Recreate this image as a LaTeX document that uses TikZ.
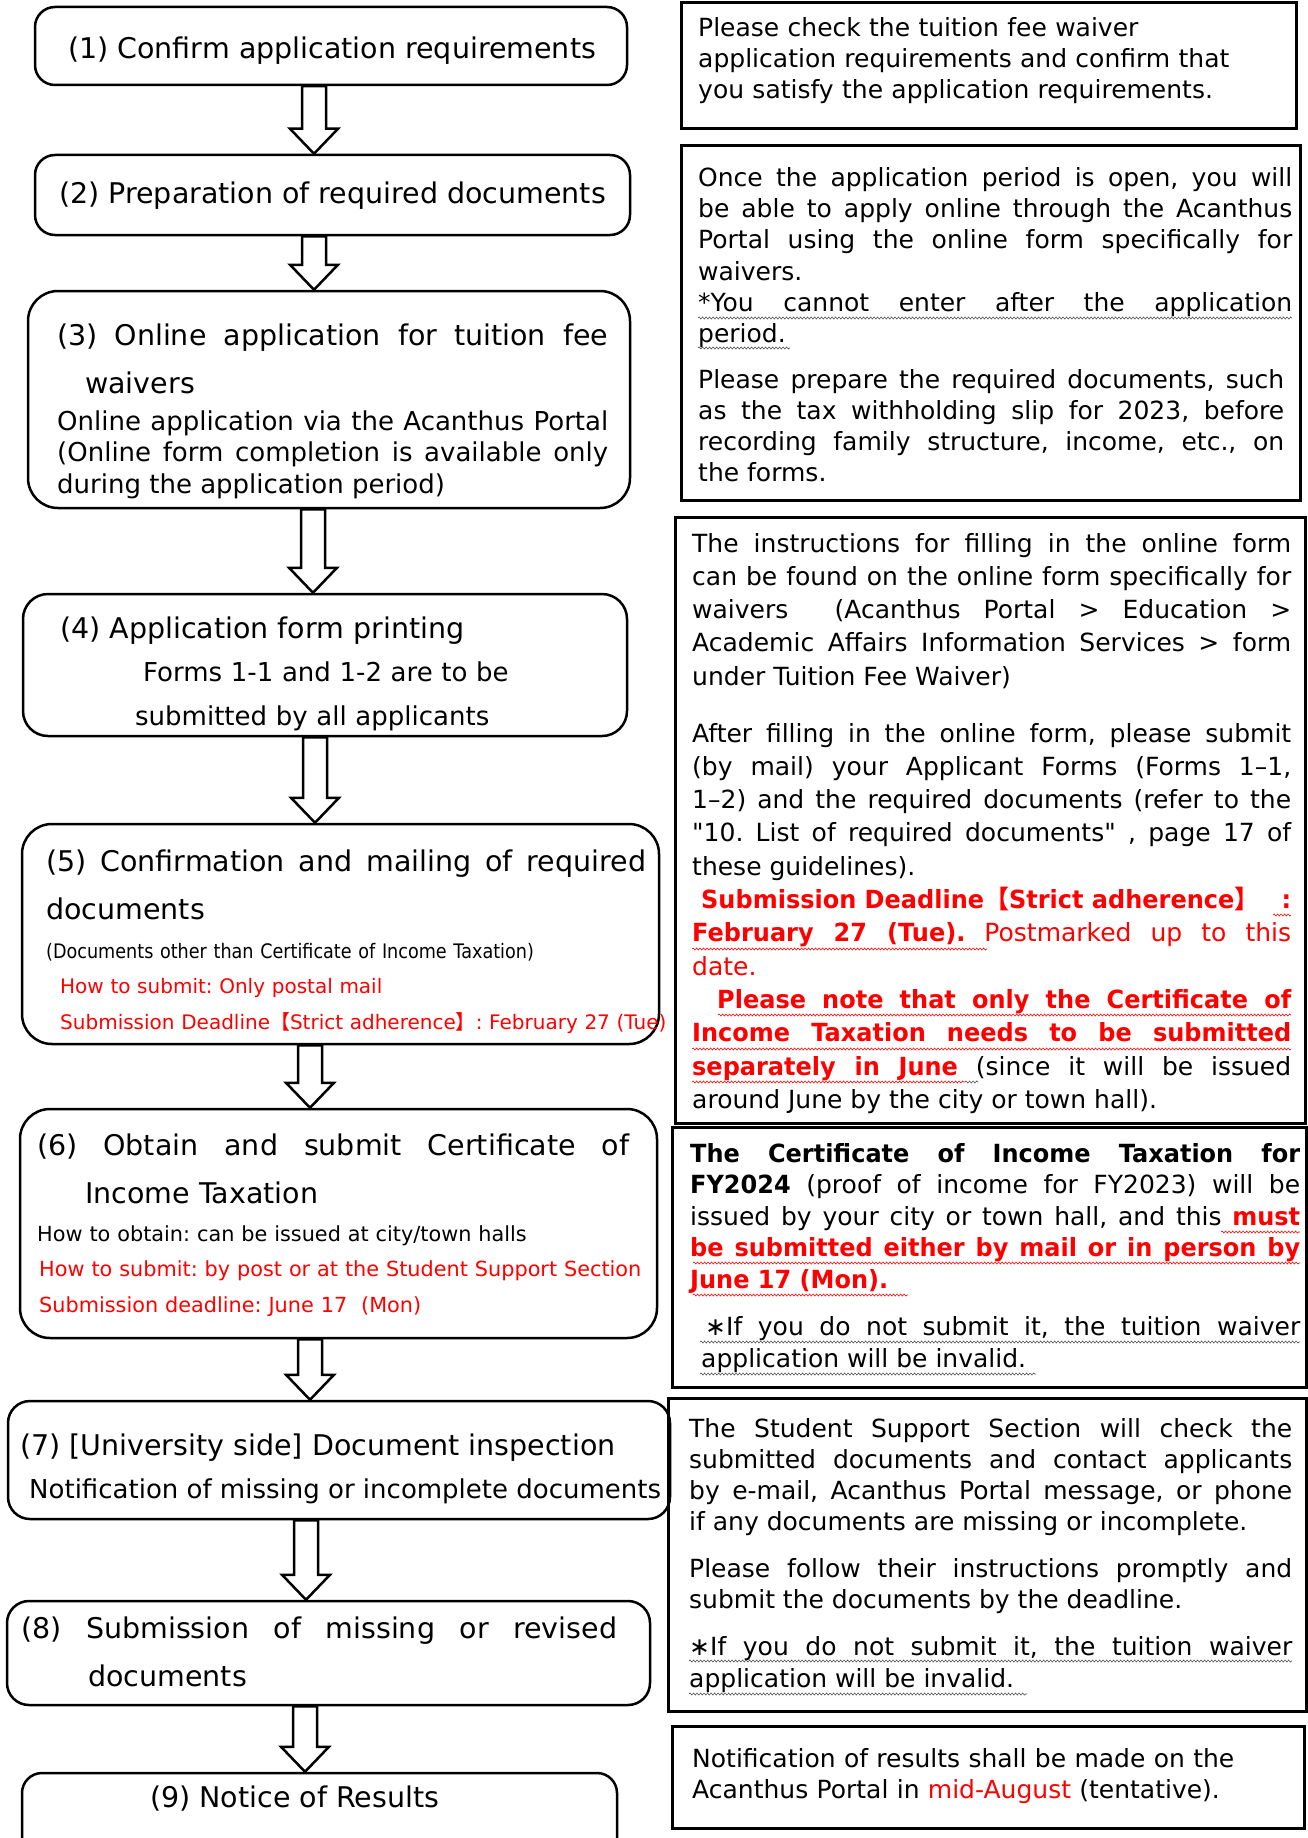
\documentclass[tikz,border=0pt]{standalone}
\usepackage{fontspec}
\setmainfont{DejaVu Sans}[BoldFeatures={FakeStretch=0.96}]
\newfontfamily\cjk{Noto Sans CJK JP}
\newfontfamily\narrowfont{DejaVu Sans}[FakeStretch=0.88]
\usetikzlibrary{calc,decorations.pathmorphing}
\hyphenpenalty=10000
\exhyphenpenalty=10000
\frenchspacing
\newcommand{\flowarrow}[3]{%
  \draw[arrowline] let \p1=(#2.south), \p2=(#3.north) in
    (#1pt-12pt,\y1) -- (#1pt+12pt,\y1) -- (#1pt+12pt,\y2+25pt)
    -- (#1pt+24pt,\y2+25pt) -- (#1pt,\y2) -- (#1pt-24pt,\y2+25pt)
    -- (#1pt-12pt,\y2+25pt) -- cycle;}

\begin{document}
\begin{tikzpicture}[x=1pt,y=-1pt,
  flowbox/.style={draw, rounded corners=20pt, line width=2.5pt, inner sep=0pt},
  notebox/.style={draw, line width=3pt, inner sep=0pt},
  titletext/.style={anchor=base west, inner sep=0pt, font=\fontsize{28.5pt}{48pt}\selectfont},
  subtext/.style={anchor=base west, inner sep=0pt, font=\fontsize{26pt}{31.5pt}\selectfont},
  smalltext/.style={anchor=base west, inner sep=0pt, text width=640pt, align=left, font=\fontsize{20pt}{35.5pt}\selectfont},
  notetext/.style={anchor=base west, inner sep=0pt, align=justify, font=\fontsize{25pt}{31pt}\selectfont},
  arrowline/.style={draw, fill=white, line width=2.5pt},
  wavy/.style={draw=black!70, line width=0.6pt, decorate, decoration={snake, amplitude=1pt, segment length=3.5pt}}]
  \useasboundingbox (0,0) rectangle (1308,1838);

  \node[flowbox, minimum width=592pt, minimum height=78pt] (b1) at (331,46) {};
  \node[flowbox, minimum width=595pt, minimum height=80pt] (b2) at (332.5,195) {};
  \node[flowbox, rounded corners=30pt, minimum width=602pt, minimum height=217pt] (b3) at (329,399.5) {};
  \node[flowbox, rounded corners=25pt, minimum width=604pt, minimum height=142pt] (b4) at (325,665) {};
  \node[flowbox, rounded corners=30pt, minimum width=637pt, minimum height=220pt] (b5) at (340.5,934) {};
  \node[flowbox, rounded corners=30pt, minimum width=637pt, minimum height=229pt] (b6) at (338.5,1223.5) {};
  \node[flowbox, rounded corners=22pt, minimum width=662pt, minimum height=118pt] (b7) at (339,1460) {};
  \node[flowbox, rounded corners=22pt, minimum width=643pt, minimum height=104pt] (b8) at (328.5,1653) {};
  \node[flowbox, minimum width=595pt, minimum height=97pt] (b9) at (319.5,1821.5) {};

  \node[notebox, minimum width=615pt, minimum height=126pt] (r1) at (988.5,66) {};
  \node[notebox, minimum width=619pt, minimum height=354pt] (r2) at (990.5,323) {};
  \node[notebox, minimum width=630pt, minimum height=606pt] (r3) at (990,820) {};
  \node[notebox, minimum width=634pt, minimum height=260pt] (r4) at (989,1257) {};
  \node[notebox, minimum width=638pt, minimum height=313pt] (r5) at (987,1554.5) {};
  \node[notebox, minimum width=632pt, minimum height=102pt] (r6) at (988,1777) {};

  \flowarrow{314}{b1}{b2}
  \flowarrow{314}{b2}{b3}
  \flowarrow{313}{b3}{b4}
  \flowarrow{315}{b4}{b5}
  \flowarrow{310}{b5}{b6}
  \flowarrow{310}{b6}{b7}
  \flowarrow{306}{b7}{b8}
  \flowarrow{305}{b8}{b9}

  \node[titletext] (t1) at (68,59) {(1) Confirm application requirements};
  \node[titletext] (t2) at (59,204) {(2) Preparation of required documents};
  \node[titletext, text width=551pt, align=justify] (t3) at (57,345)
    {(3) Online application for tuition fee\linebreak\hspace*{28pt}waivers};
  \node[subtext, text width=551pt, align=justify] (t3s) at (57,430)
    {Online application via the Acanthus Portal\linebreak
     (Online form completion is available only\linebreak
     during the application period)};
  \node[titletext] (t4) at (60,638) {(4) Application form printing};
  \node[subtext, text width=420pt, align=left, font=\fontsize{26pt}{44pt}\selectfont] (t4s) at (135,681)
    {\hspace*{8pt}Forms 1-1 and 1-2 are to be\\submitted by all applicants};
  \node[titletext, text width=600pt, align=justify] (t5) at (46,871)
    {(5) Confirmation and mailing of required\linebreak documents};
  \node[smalltext] (t5s) at (46,958)
    {{\narrowfont (Documents other than Certificate of Income Taxation)}\\
     \textcolor{red}{\hspace*{14pt}How to submit: Only postal mail}\\
     \textcolor{red}{\hspace*{14pt}Submission Deadline{\cjk 【}Strict adherence{\cjk 】}: February 27 (Tue)}};
  \node[titletext, text width=592pt, align=justify] (t6) at (37,1155)
    {(6) Obtain and submit Certificate of\linebreak\hspace*{48pt}Income Taxation};
  \node[smalltext, font=\fontsize{20.8pt}{35.5pt}\selectfont] (t6s) at (37,1241)
    {How to obtain: can be issued at city/town halls\\
     \textcolor{red}{\hspace*{2pt}How to submit: by post or at the Student Support Section}\\
     \textcolor{red}{\hspace*{2pt}Submission deadline: June 17\ \ (Mon)}};
  \node[titletext] (t7) at (20,1455) {(7) [University side] Document inspection};
  \node[subtext] (t7s) at (29,1498) {Notification of missing or incomplete documents};
  \node[titletext, text width=596pt, align=justify] (t8) at (21,1638)
    {(8) Submission of missing or revised\linebreak\hspace*{67pt}documents};
  \node[titletext] (t9) at (150,1807) {(9) Notice of Results};

  \node[notetext, text width=594pt, align=left] (n1) at (698,37)
    {Please check the tuition fee waiver\\
     application requirements and confirm that\\
     you satisfy the application requirements.};
  \node[notetext, text width=594pt] (n2a) at (698,187)
    {Once the application period is open, you will\linebreak
     be able to apply online through the Acanthus\linebreak
     Portal using the online form specifically for\linebreak
     waivers.\\
     {*}You cannot enter after the application\linebreak
     period.};
  \node[notetext, text width=586pt] (n2b) at (698,388)
    {Please prepare the required documents, such\linebreak
     as the tax withholding slip for 2023, before\linebreak
     recording family structure, income, etc., on\linebreak
     the forms.};
  \node[notetext, text width=599pt, font=\fontsize{25pt}{33.3pt}\selectfont] (n3a) at (692,552)
    {The instructions for filling in the online form\linebreak
     can be found on the online form specifically for\linebreak
     waivers~ (Acanthus Portal > Education >\linebreak
     Academic Affairs Information Services > form\linebreak
     under Tuition Fee Waiver)};
  \node[notetext, text width=599pt, font=\fontsize{25pt}{33.3pt}\selectfont] (n3b) at (692,742)
    {After filling in the online form, please submit\linebreak
     (by mail) your Applicant Forms (Forms 1–1,\linebreak
     1–2) and the required documents (refer to the\linebreak
     \textquotedbl 10. List of required documents\textquotedbl\ , page 17 of\linebreak
     these guidelines).\\
     \textcolor{red}{\hspace*{9pt}\textbf{Submission Deadline{\cjk 【}Strict adherence{\cjk 】}\hfill:}\linebreak
     \textbf{February 27 (Tue).} Postmarked up to this\linebreak
     date.}\\
     \textcolor{red}{\hspace*{25pt}\textbf{Please note that only the Certificate of\linebreak
     Income Taxation needs to be submitted\linebreak
     separately in June}} (since it will be issued\linebreak
     around June by the city or town hall).};
  \node[notetext, text width=610pt, font=\fontsize{25pt}{31.5pt}\selectfont] (n4a) at (690,1162)
    {\textbf{The Certificate of Income Taxation for}\linebreak
     \textbf{FY2024} (proof of income for FY2023) will be\linebreak
     issued by your city or town hall, and this \textcolor{red}{\textbf{must}}\linebreak
     \textcolor{red}{\textbf{be submitted either by mail or in person by}}\linebreak
     \textcolor{red}{\textbf{June 17 (Mon).}}};
  \node[notetext, text width=599pt, font=\fontsize{25pt}{32pt}\selectfont] (n4b) at (701,1335)
    {\hspace*{4pt}∗If you do not submit it, the tuition waiver\linebreak
     application will be invalid.};
  \node[notetext, text width=603pt] (n5a) at (689,1437)
    {The Student Support Section will check the\linebreak
     submitted documents and contact applicants\linebreak
     by e-mail, Acanthus Portal message, or phone\linebreak
     if any documents are missing or incomplete.};
  \node[notetext, text width=603pt] (n5b) at (689,1577)
    {Please follow their instructions promptly and\linebreak
     submit the documents by the deadline.};
  \node[notetext, text width=603pt, font=\fontsize{25pt}{32pt}\selectfont] (n5c) at (689,1655)
    {∗If you do not submit it, the tuition waiver\linebreak
     application will be invalid.};
  \node[notetext, text width=603pt, align=left] (n6) at (692,1767)
    {Notification of results shall be made on the\\
     Acanthus Portal in \textcolor{red}{mid-August} (tentative).};

  \draw[wavy] (698,318) -- (1292,318);
  \draw[wavy] (698,348) -- (790,348);
  \draw[wavy, draw=red] (1273,915) -- (1291,915);
  \draw[wavy, draw=red] (692,949) -- (987,949);
  \draw[wavy, draw=red] (718,1015) -- (1291,1015);
  \draw[wavy, draw=red] (692,1049) -- (1291,1049);
  \draw[wavy, draw=red] (692,1082) -- (965,1082);
  \draw[wavy] (965,1082) -- (978,1082);
  \draw[wavy, draw=red] (1221,1232) -- (1300,1232);
  \draw[wavy, draw=red] (693,1263) -- (1300,1263);
  \draw[wavy, draw=red] (693,1295) -- (908,1295);
  \draw[wavy] (700,1342) -- (1300,1342);
  \draw[wavy] (700,1374) -- (1036,1374);
  \draw[wavy] (689,1661) -- (1292,1661);
  \draw[wavy] (689,1694) -- (1027,1694);
\end{tikzpicture}
\end{document}
